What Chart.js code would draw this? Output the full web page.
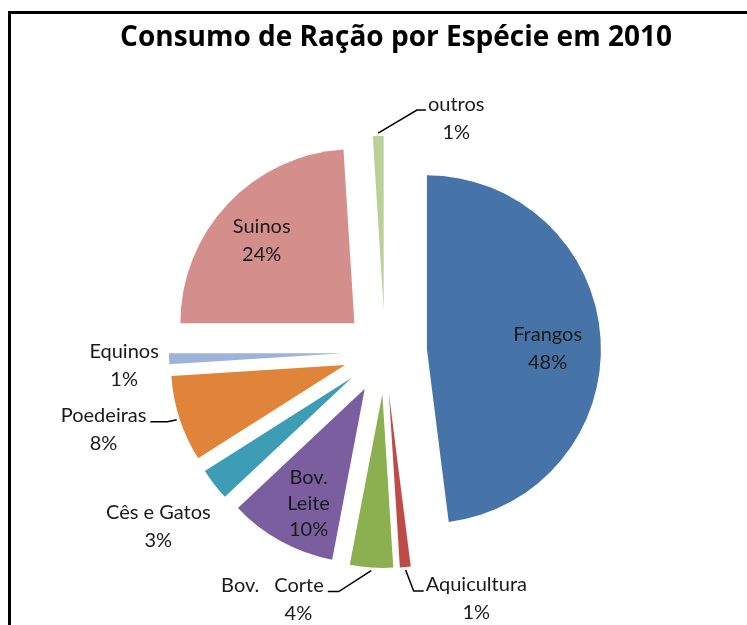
<!DOCTYPE html>
<html>
<head>
<meta charset="utf-8">
<title>Consumo de Ração por Espécie em 2010</title>
<script src="https://cdn.jsdelivr.net/npm/chart.js@4.4.1/dist/chart.umd.min.js"></script>
<style>
  html, body { margin: 0; padding: 0; background: #fff; }
</style>
</head>
<body>
<canvas id="racao" width="747" height="625"></canvas>
<script>
// dados: consumo de ração por espécie (%)
const especies = ['Frangos', 'Aquicultura', 'Bov. Corte', 'Bov. Leite', 'Cês e Gatos', 'Poedeiras', 'Equinos', 'Suinos', 'outros'];
const consumo = [48, 1, 4, 10, 3, 8, 1, 24, 1];
const cores = ['#4674a8', '#be4b48', '#8cb04f', '#7b5ea0', '#3c9db5', '#e0843a', '#9db3d9', '#d48e8c', '#b9d197'];

// deslocamento de cada fatia (px) no sentido do ângulo médio
const destaque = 42;

// posição dos rótulos: k = distância no ângulo médio (fração do raio), dx/dy = ajuste,
// guia = lado do texto em relação à linha guia, cotovelo = trecho horizontal da guia
const rotulos = [
  { nome: ['Frangos'], k: 0.695, dx: 0, dy: 7 },
  { nome: ['Aquicultura'], k: 1, dx: 71, dy: 32, guia: 'dir', cotovelo: 10 },
  { nome: ['Bov.\u2003Corte'], k: 1, dx: -86, dy: 32, lx: [-13, 13], guia: 'esq', cotovelo: 11 },
  { nome: ['Bov.', 'Leite'], k: 0.73, dx: 5, dy: 3, passo: 26 },
  { nome: ['Cês e Gatos'], k: 1, dx: -56, dy: 42 },
  { nome: ['Poedeiras'], k: 1, dx: -76, dy: 11, guia: 'esq', cotovelo: 17 },
  { nome: ['Equinos'], k: 1, dx: -45, dy: 7 },
  { nome: ['Suinos'], k: 0.715, dx: -2, dy: 2 },
  { nome: ['outros'], k: 1, dx: 78, dy: -18, guia: 'dir', cotovelo: 9 }
];

// o offset nativo do Chart.js muda o raio conforme o tamanho da fatia;
// aqui a fatia inteira é apenas transladada
const desenhaArco = Chart.ArcElement.prototype.draw;
Chart.ArcElement.prototype.draw = function (ctx) {
  const meio = (this.startAngle + this.endAngle) / 2;
  ctx.save();
  ctx.translate(Math.cos(meio) * destaque, Math.sin(meio) * destaque);
  desenhaArco.call(this, ctx);
  ctx.restore();
};

const moldura = {
  id: 'moldura',
  beforeDraw(chart) {
    const { ctx } = chart;
    ctx.save();
    ctx.fillStyle = '#fff';
    ctx.fillRect(0, 0, chart.width, chart.height);
    ctx.strokeStyle = '#000';
    ctx.lineWidth = 3;
    ctx.strokeRect(9.5, 12.5, chart.width + 20, chart.height + 20);
    ctx.fillStyle = '#000';
    ctx.font = 'bold 28px "Open Sans"';
    ctx.textAlign = 'center';
    ctx.textBaseline = 'middle';
    ctx.fillText('Consumo de Ração por Espécie em 2010', 396, 38);
    ctx.restore();
  }
};

const rotulosPlugin = {
  id: 'rotulos',
  afterDatasetsDraw(chart) {
    const { ctx } = chart;
    const meta = chart.getDatasetMeta(0);
    const total = consumo.reduce((a, b) => a + b, 0);
    ctx.save();
    ctx.font = '20px Lato';
    ctx.fillStyle = '#1a1a1a';
    ctx.textAlign = 'center';
    ctx.textBaseline = 'middle';
    meta.data.forEach((arc, i) => {
      const p = arc.getProps(['x', 'y', 'startAngle', 'endAngle', 'outerRadius']);
      const mid = (p.startAngle + p.endAngle) / 2;
      const ux = Math.cos(mid), uy = Math.sin(mid);
      const ax = p.x + ux * destaque, ay = p.y + uy * destaque;
      const cfg = rotulos[i];
      const px = ax + ux * p.outerRadius * cfg.k + cfg.dx;
      const py = ay + uy * p.outerRadius * cfg.k + cfg.dy;
      const linhas = [...cfg.nome, Math.round(consumo[i] / total * 100) + '%'];
      const passo = cfg.passo || 28;
      const y0 = py - passo * (linhas.length - 1) / 2;
      linhas.forEach((t, j) => {
        ctx.fillText(t, px + (cfg.lx ? cfg.lx[j] : 0), y0 + j * passo);
      });
      if (cfg.guia) {
        const w = ctx.measureText(linhas[0]).width;
        const cx = px + (cfg.lx ? cfg.lx[0] : 0);
        const ly = y0 + 6;
        const ex = cfg.guia === 'dir' ? cx - w / 2 - 2 : cx + w / 2 + 4;
        const bx = cfg.guia === 'dir' ? ex - cfg.cotovelo : ex + cfg.cotovelo;
        const sx = ax + ux * (p.outerRadius + 3), sy = ay + uy * (p.outerRadius + 3);
        ctx.beginPath();
        ctx.moveTo(sx, sy);
        ctx.lineTo(bx, ly);
        ctx.lineTo(ex, ly);
        ctx.strokeStyle = '#000';
        ctx.lineWidth = 1.5;
        ctx.stroke();
      }
    });
    ctx.restore();
  }
};

function desenha() {
  new Chart(document.getElementById('racao'), {
    type: 'pie',
    data: {
      labels: especies,
      datasets: [{
        data: consumo,
        backgroundColor: cores,
        borderWidth: 0,
        offset: 0
      }]
    },
    options: {
      responsive: false,
      animation: false,
      events: [],
      radius: 174,
      layout: { padding: { left: 23, top: 79, right: 0, bottom: 0 } },
      plugins: {
        legend: { display: false },
        tooltip: { enabled: false },
        title: { display: false }
      }
    },
    plugins: [moldura, rotulosPlugin]
  });
}

document.fonts.load('20px Lato').then(desenha, desenha);
</script>
</body>
</html>
